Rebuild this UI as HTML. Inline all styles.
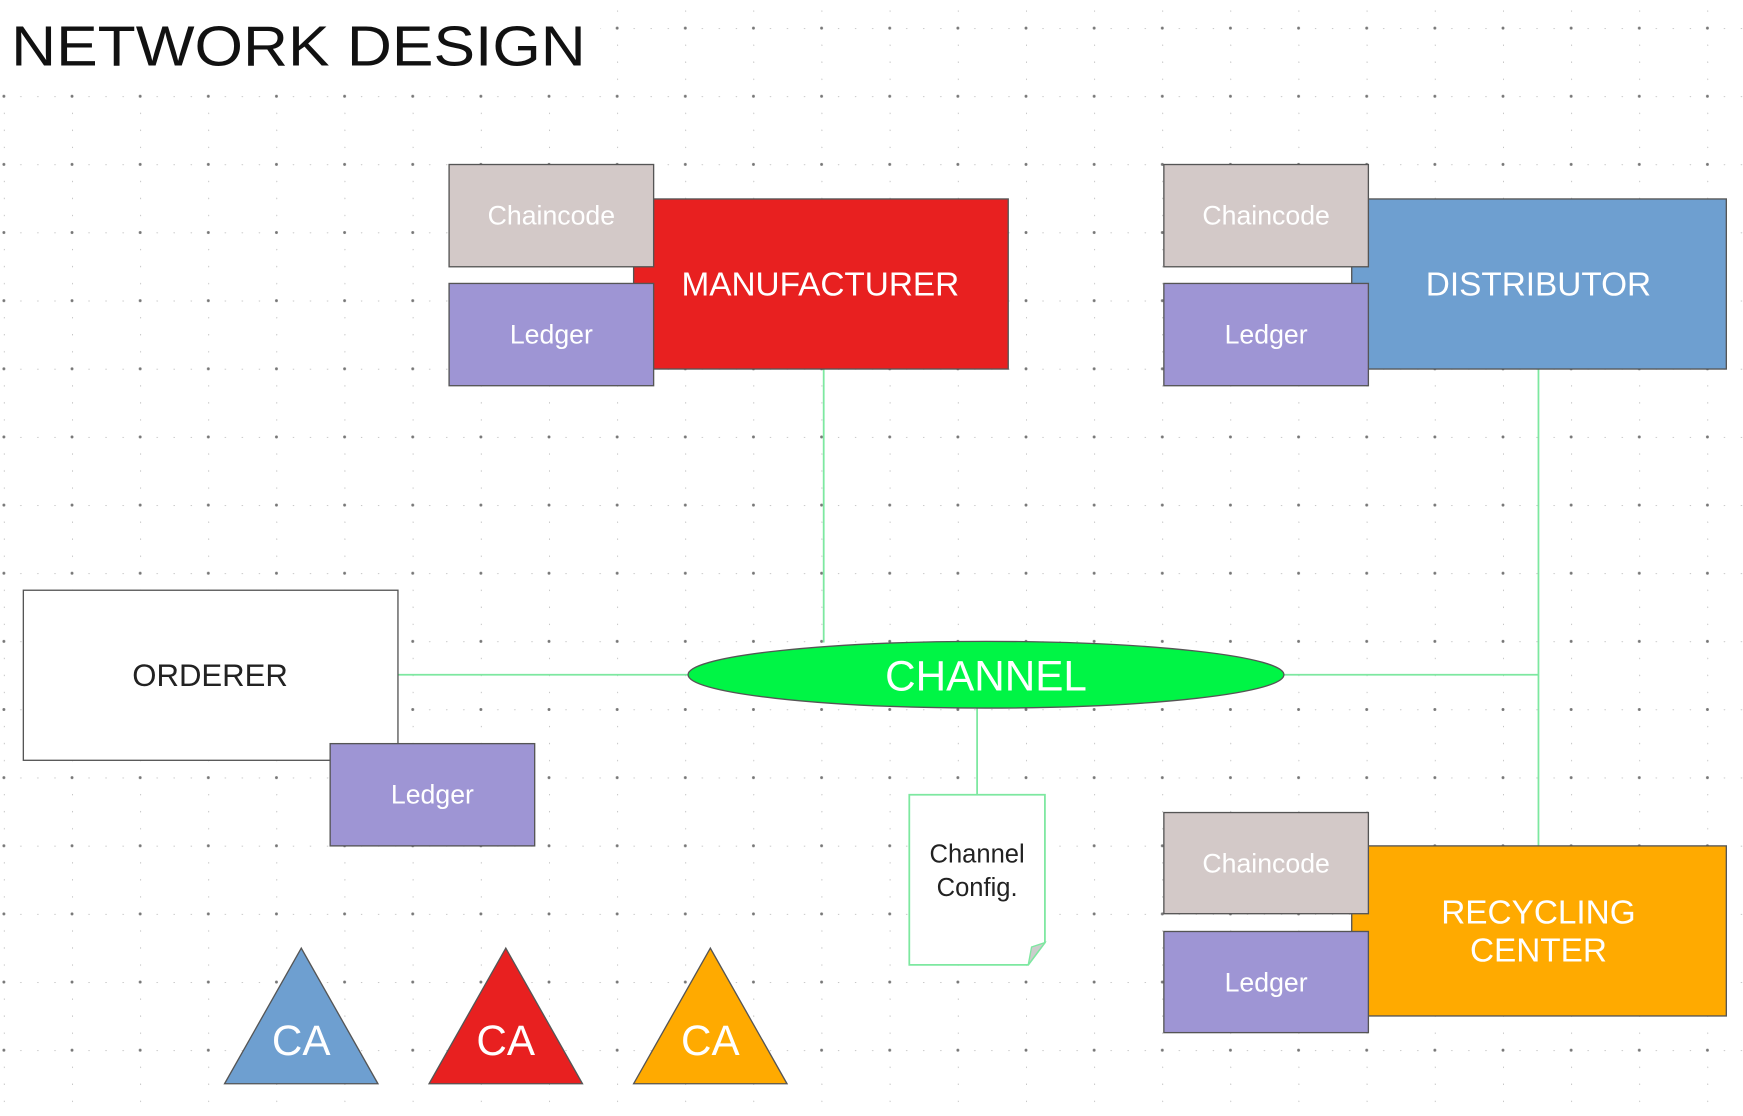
<!DOCTYPE html>
<html><head><meta charset="utf-8"><style>
html,body{margin:0;padding:0;background:#fff;}
svg{display:block;font-family:"Liberation Sans",sans-serif;}
</style></head><body>
<svg width="1743" height="1116" viewBox="0 0 1568 1004" preserveAspectRatio="none" xmlns="http://www.w3.org/2000/svg">
<defs>
<pattern id="g" x="3.5" y="25.3" width="61.3" height="61.3" patternUnits="userSpaceOnUse">
<circle cx="0" cy="0" r="1.3" fill="#777"/><circle cx="61.3" cy="0" r="1.3" fill="#777"/><circle cx="0" cy="61.3" r="1.3" fill="#777"/><circle cx="61.3" cy="61.3" r="1.3" fill="#777"/>
<circle cx="15.3" cy="0" r="0.7" fill="#aaa"/><circle cx="30.6" cy="0" r="0.7" fill="#aaa"/><circle cx="46" cy="0" r="0.7" fill="#aaa"/>
<circle cx="0" cy="15.3" r="0.7" fill="#aaa"/><circle cx="0" cy="30.6" r="0.7" fill="#aaa"/><circle cx="0" cy="46" r="0.7" fill="#aaa"/>
</pattern>
</defs>
<rect width="1568" height="1004" fill="url(#g)"/>
<rect x="0" y="0" width="540" height="80" fill="#fff"/>
<text x="10" y="59" font-size="51" fill="#111" textLength="517" lengthAdjust="spacingAndGlyphs">NETWORK DESIGN</text>

<g stroke="#7de8a0" stroke-width="1.6" fill="none">
<line x1="741" y1="332" x2="741" y2="578"/>
<line x1="358" y1="607" x2="620" y2="607"/>
<line x1="1155" y1="607" x2="1384" y2="607"/>
<line x1="1384" y1="332" x2="1384" y2="761"/>
<line x1="879" y1="637" x2="879" y2="715"/>
</g>

<g stroke="#555" stroke-width="1.2">
<rect x="570" y="179" width="337" height="153" fill="#e82020"/>
<rect x="404" y="148" width="184" height="92" fill="#d3c9c8"/>
<rect x="404" y="255" width="184" height="92" fill="#9e95d4"/>
<rect x="1216" y="179" width="337" height="153" fill="#6e9fd0"/>
<rect x="1047" y="148" width="184" height="92" fill="#d3c9c8"/>
<rect x="1047" y="255" width="184" height="92" fill="#9e95d4"/>
<rect x="1216" y="761" width="337" height="153" fill="#ffaa00"/>
<rect x="1047" y="731" width="184" height="91" fill="#d3c9c8"/>
<rect x="1047" y="838" width="184" height="91" fill="#9e95d4"/>
<rect x="21" y="531" width="337" height="153" fill="#fff"/>
<rect x="297" y="669" width="184" height="92" fill="#9e95d4"/>
<ellipse cx="887" cy="607" rx="268" ry="30" fill="#00f545"/>
<polygon points="271,853 202,975 340,975" fill="#6e9fd0"/>
<polygon points="455,853 386,975 524,975" fill="#e82020"/>
<polygon points="639,853 570,975 708,975" fill="#ffaa00"/>
</g>
<path d="M818,715 H940 V848 L925,868 H818 Z" fill="#fff" stroke="#7de8a0" stroke-width="1.6"/>
<path d="M940,848 L925,868 L928,852 Z" fill="#ccc" stroke="#7de8a0" stroke-width="1.2"/>

<g fill="#fff" text-anchor="middle" font-size="24">
<text x="496" y="202">Chaincode</text>
<text x="496" y="309">Ledger</text>
<text x="1139" y="202">Chaincode</text>
<text x="1139" y="309">Ledger</text>
<text x="1139" y="785">Chaincode</text>
<text x="1139" y="892">Ledger</text>
<text x="389" y="723">Ledger</text>
<text x="738" y="266" font-size="30">MANUFACTURER</text>
<text x="1384" y="266" font-size="30">DISTRIBUTOR</text>
<text x="1384" y="831" font-size="30">RECYCLING</text>
<text x="1384" y="865" font-size="30">CENTER</text>
<text x="887" y="621" font-size="38">CHANNEL</text>
<text x="271" y="949" font-size="38">CA</text>
<text x="455" y="949" font-size="38">CA</text>
<text x="639" y="949" font-size="38">CA</text>
</g>
<g fill="#222" text-anchor="middle">
<text x="189" y="617" font-size="28">ORDERER</text>
<text x="879" y="776" font-size="23">Channel</text>
<text x="879" y="806" font-size="23">Config.</text>
</g>
</svg>
</body></html>
